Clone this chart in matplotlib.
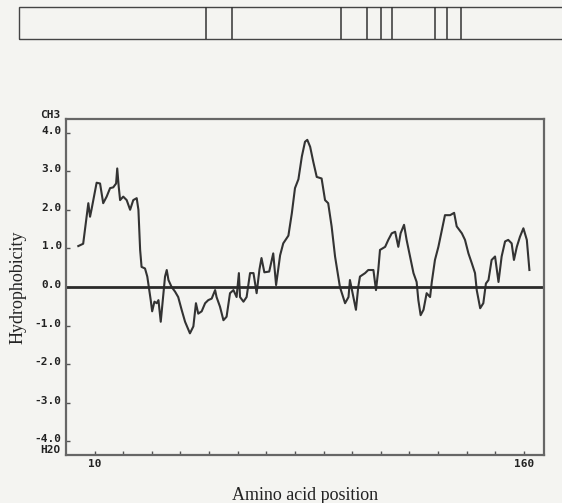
import matplotlib
matplotlib.use("Agg")
import matplotlib.pyplot as plt
import matplotlib.transforms as mtransforms
from matplotlib.patches import Rectangle

# hydrophobicity profile (position, value)
positions = [4.3, 6.0, 7.8, 8.4, 8.9, 10.7, 11.9, 13.0, 14.2, 15.4, 16.5, 17.5, 17.9, 18.4, 18.9,
             20.0, 21.2, 22.4, 23.5, 24.7, 25.3, 25.9, 26.4, 27.6, 28.4, 29.1, 29.6, 30.1, 30.9,
             31.7, 32.3, 33.1, 33.8, 34.6, 35.2, 35.8, 36.9, 38.1, 39.2, 40.4, 41.6, 43.3, 44.5,
             45.4, 46.2, 47.4, 48.6, 49.7, 50.9, 52.1, 52.6, 53.8, 55.0, 56.1, 57.3, 58.5, 59.6,
             60.4, 60.8, 62.0, 63.1, 64.3, 65.5, 66.6, 67.6, 68.3, 69.3, 71.0, 72.4, 73.4, 74.8,
             75.9, 77.7, 78.9, 80.0, 81.2, 82.4, 83.5, 84.3, 85.3, 86.4, 87.6, 89.3, 90.5, 91.6,
             92.8, 94.0, 95.1, 95.7, 97.5, 98.7, 99.2, 100.4, 101.3, 102.1, 102.7, 104.5, 105.6,
             107.4, 108.3, 109.1, 109.7, 111.5, 112.6, 113.8, 115.0, 116.1, 116.9, 118.1, 119.0,
             120.2, 121.4, 122.5, 123.1, 123.9, 124.9, 126.0, 127.2, 127.8, 128.9, 130.1, 131.3,
             132.4, 134.2, 135.6, 136.5, 138.3, 139.4, 140.6, 141.8, 142.9, 143.5, 144.7, 145.8,
             146.7, 147.6, 148.7, 149.9, 151.1, 152.2, 153.4, 154.5, 155.7, 156.5, 157.5, 158.6,
             159.8, 161.0, 161.9]
hydro = [1.06, 1.12, 2.17, 1.82, 2.00, 2.70, 2.68, 2.17, 2.34, 2.56, 2.58, 2.68, 3.07, 2.61, 2.25,
         2.34, 2.25, 2.00, 2.25, 2.30, 2.00, 0.96, 0.52, 0.48, 0.27, -0.08, -0.34, -0.63, -0.38,
         -0.42, -0.34, -0.90, -0.34, 0.27, 0.44, 0.18, 0.00, -0.12, -0.26, -0.59, -0.90, -1.20, -1.02,
         -0.42, -0.69, -0.63, -0.42, -0.34, -0.30, -0.08, -0.26, -0.51, -0.86, -0.77, -0.16, -0.08, -0.26,
         0.36, -0.26, -0.38, -0.26, 0.36, 0.36, -0.16, 0.46, 0.75, 0.38, 0.40, 0.87, 0.05, 0.82,
         1.13, 1.33, 1.91, 2.56, 2.79, 3.38, 3.76, 3.81, 3.63, 3.24, 2.85, 2.81, 2.25, 2.17,
         1.57, 0.79, 0.27, 0.00, -0.42, -0.26, 0.18, -0.26, -0.59, 0.00, 0.27, 0.36, 0.44,
         0.44, -0.08, 0.44, 0.96, 1.04, 1.22, 1.39, 1.43, 1.04, 1.39, 1.61, 1.22,
         0.79, 0.36, 0.13, -0.34, -0.73, -0.59, -0.16, -0.26, 0.13, 0.70, 1.04, 1.47,
         1.86, 1.86, 1.92, 1.57, 1.39, 1.22, 0.87, 0.61, 0.36, -0.08, -0.55, -0.42,
         0.09, 0.18, 0.70, 0.79, 0.13, 0.79, 1.18, 1.22, 1.13, 0.70, 1.04, 1.30,
         1.52, 1.22, 0.44]

# domain map above the plot (boundaries in residue numbers)
domain_start = -16.5
domain_end = 185
domain_bounds = [49, 58, 96, 105, 110, 114, 129, 133, 138]

yticks = [4, 3, 2, 1, 0, -1, -2, -3, -4]
xticks = list(range(10, 161, 10))
xticklabels = ["10" if t == 10 else "160" if t == 160 else "" for t in xticks]

bg = "#f4f4f1"
ink = "#333333"
W, H = 562, 503
fig = plt.figure(figsize=(W / 100, H / 100), dpi=100, facecolor=bg)

ax_l, ax_r, ax_t, ax_b = 66, 544, 119, 455
xmin, xmax = 0, 167
ax = fig.add_axes([ax_l / W, 1 - ax_b / H, (ax_r - ax_l) / W, (ax_b - ax_t) / H])
ax.set_facecolor(bg)

ax.plot(positions, hydro, color=ink, lw=1.5)
ax.axhline(0, color="#2a2a2a", lw=2.0)

ax.set_xlim(xmin, xmax)
ax.set_ylim(-4.35, 4.35)

mono = dict(family="DejaVu Sans Mono", weight="bold", size=8, color="#222222")
ax.set_yticks(yticks)
ax.set_yticklabels(["%.1f" % v for v in yticks], **mono)
ax.set_xticks(xticks)
ax.set_xticklabels(xticklabels, **mono)
ax.tick_params(axis="both", direction="in", length=3, width=1, color="#555555", pad=3)
# the scan prints the y labels a few pixels above their tick dots
lift = mtransforms.ScaledTranslation(0, 3 / 100, fig.dpi_scale_trans)
for lab in ax.get_yticklabels():
    lab.set_transform(lab.get_transform() + lift)
for s in ax.spines.values():
    s.set_color("#666666")
    s.set_linewidth(1.6)

ax.text(-0.012, 4.45, "CH3", transform=ax.get_yaxis_transform(), ha="right", va="center", **mono)
ax.text(-0.012, -4.22, "H2O", transform=ax.get_yaxis_transform(), ha="right", va="center", **mono)

serif = dict(family="Liberation Serif", size=13, color="#222222")
ax.set_ylabel("Hydrophobicity", labelpad=6, **serif)
ax.set_xlabel("Amino acid position", labelpad=13, **serif)

# domain bar, same residue scale as the main axes
scale = (ax_r - ax_l) / (xmax - xmin)
bx = fig.add_axes([0, 1 - 38.5 / H, 1, 32 / H])
bx.set_xlim(xmin - ax_l / scale, xmax + (W - ax_r) / scale)
bx.set_ylim(0, 1)
bx.axis("off")
bx.add_patch(Rectangle((domain_start, 0), domain_end - domain_start, 1,
                       fill=False, ec="#444444", lw=1.0, clip_on=False))
for b in domain_bounds:
    bx.plot([b, b], [0, 1], color="#333333", lw=1.1)

fig.savefig("out.png", dpi=100, facecolor=bg)
